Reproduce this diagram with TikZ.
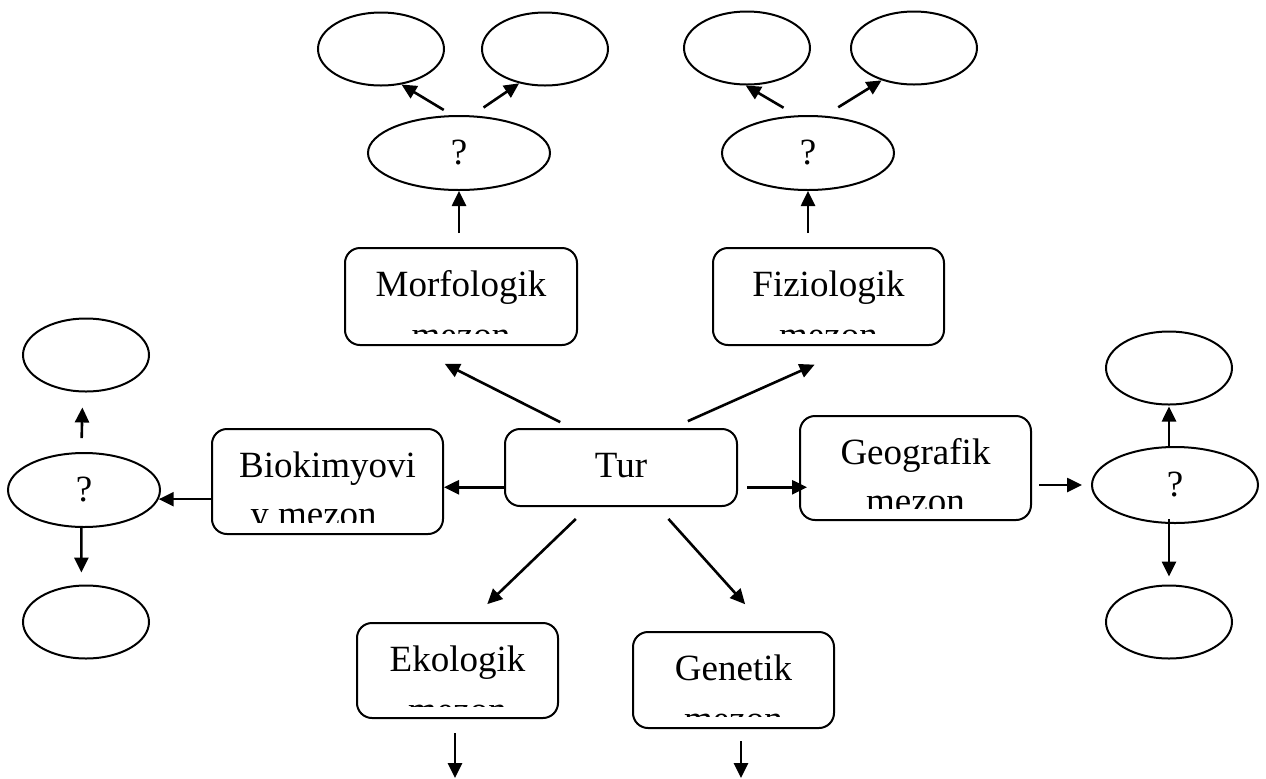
\documentclass[tikz,border=0pt]{standalone}
\usepackage{fontspec}
\setmainfont{Liberation Serif}
\usetikzlibrary{shapes.geometric, arrows.meta, calc}

\tikzset{
  mezon/.style={draw, rounded corners=7.5pt, line width=1pt, inner sep=0pt},
  blank/.style={draw, ellipse, line width=1pt, inner sep=0pt, minimum width=63pt, minimum height=36.5pt},
  query/.style={draw, ellipse, line width=1pt, inner sep=0pt, minimum height=37pt, font=\fontsize{18.5}{22}\selectfont},
  lbl/.style={inner sep=0pt, anchor=base, font=\fontsize{18.5}{22}\selectfont},
  arr/.style={-{Triangle[length=7.5pt, width=7pt]}, line width=1.3pt},
}

\begin{document}
\begin{tikzpicture}[x=0.5pt, y=-0.5pt]
    \useasboundingbox (0,0) rectangle (1266,778);

    % boxes
    \node[mezon, minimum width=116pt, minimum height=38.5pt] (tur) at (621,467.5) {};
    \node[mezon, minimum width=116pt, minimum height=48.5pt] (morf) at (461,296.5) {};
    \node[mezon, minimum width=115.5pt, minimum height=48.5pt] (fizi) at (828.5,296.5) {};
    \node[mezon, minimum width=115.5pt, minimum height=52.5pt] (biok) at (327.5,481.5) {};
    \node[mezon, minimum width=115.5pt, minimum height=52pt] (geog) at (915.5,468) {};
    \node[mezon, minimum width=100.5pt, minimum height=47.5pt] (ekol) at (457.5,670.5) {};
    \node[mezon, minimum width=100.5pt, minimum height=48pt] (gene) at (733.5,680) {};

    \node[lbl] at ([yshift=-24.5pt]tur.north) {Tur};
    \begin{scope}
        \clip (morf.north west) rectangle ([yshift=6.5pt]morf.south east);
        \node[lbl] at ([yshift=-24.5pt]morf.north) {Morfologik};
        \node[lbl] at ([yshift=-50pt]morf.north) {mezon};
    \end{scope}
    \begin{scope}
        \clip (fizi.north west) rectangle ([yshift=6.5pt]fizi.south east);
        \node[lbl] at ([yshift=-24.5pt]fizi.north) {Fiziologik};
        \node[lbl] at ([yshift=-50pt]fizi.north) {mezon};
    \end{scope}
    \begin{scope}
        \clip (biok.north west) rectangle ([yshift=6.5pt]biok.south east);
        \node[lbl] at ([yshift=-24.5pt]biok.north) {Biokimyovi};
        \node[lbl] at ([xshift=-7pt, yshift=-49pt]biok.north) {y mezon};
    \end{scope}
    \begin{scope}
        \clip (geog.north west) rectangle ([yshift=6.5pt]geog.south east);
        \node[lbl] at ([yshift=-24.5pt]geog.north) {Geografik};
        \node[lbl] at ([yshift=-49pt]geog.north) {mezon};
    \end{scope}
    \begin{scope}
        \clip (ekol.north west) rectangle ([yshift=6.5pt]ekol.south east);
        \node[lbl] at ([yshift=-24.5pt]ekol.north) {Ekologik};
        \node[lbl] at ([yshift=-50pt]ekol.north) {mezon};
    \end{scope}
    \begin{scope}
        \clip (gene.north west) rectangle ([yshift=6.5pt]gene.south east);
        \node[lbl] at ([yshift=-24.5pt]gene.north) {Genetik};
        \node[lbl] at ([yshift=-50pt]gene.north) {mezon};
    \end{scope}

    % ellipses
    \node[blank] (m1) at (381,49) {};
    \node[blank] (m2) at (545,49) {};
    \node[query, minimum width=91pt] (mq) at (459,153) {?};
    \node[blank] (f1) at (747,48) {};
    \node[blank] (f2) at (914,48) {};
    \node[query, minimum width=86pt] (fq) at (808,153) {?};
    \node[blank] (b1) at (86,355) {};
    \node[query, minimum width=76pt] (bq) at (84,490) {?};
    \node[blank] (b2) at (86,622) {};
    \node[blank] (g1) at (1169,368) {};
    \node[query, minimum width=83pt, minimum height=38pt] (gq) at (1175,485) {?};
    \node[blank] (g2) at (1169,622) {};

    % arrows from Tur
    \draw[arr, shorten <=6.5pt, shorten >=19.7pt] ($(tur.north west)!0.29!(tur.north east)$) -- ($(morf.south west)!0.28!(morf.south east)$);
    \draw[arr, shorten <=8.4pt, shorten >=22.9pt] ($(tur.north west)!0.72!(tur.north east)$) -- ($(fizi.south west)!0.62!(fizi.south east)$);
    \draw[arr, shorten <=8.6pt, shorten >=12.9pt] ($(tur.south west)!0.36!(tur.south east)$) -- ($(ekol.north west)!0.555!(ekol.north east)$);
    \draw[arr, shorten <=8pt, shorten >=18pt] ($(tur.south west)!0.657!(tur.south east)$) -- ($(gene.north west)!0.676!(gene.north east)$);
    \coordinate (turL) at ($(tur.north west)!0.75!(tur.south west)$);
    \coordinate (turR) at ($(tur.north east)!0.75!(tur.south east)$);
    \draw[arr] (turL) -- (turL -| biok.east);
    \draw[arr, shorten <=4.5pt, shorten >=-4pt] (turR) -- (turR -| geog.west);

    % arrows to ellipses
    \draw[arr, shorten <=7pt] (mq.south |- morf.north) -- (mq.south);
    \draw[arr, shorten <=5pt] (mq.100) -- (m1.-60);
    \draw[arr, shorten <=7pt] (mq.71) -- (m2.-127);
    \draw[arr, shorten <=7pt] (fq.south |- fizi.north) -- (fq.south);
    \draw[arr, shorten <=7.5pt] (fq.107) -- (f1.-92);
    \draw[arr, shorten <=8pt] (fq.66) -- (f2.-135);
    \draw[arr] (biok.west |- bq.-7) -- (bq.-7);
    \draw[arr, shorten <=7pt, shorten >=7.5pt] (bq.94) -- (b1.-95);
    \draw[arr, shorten >=6pt] (bq.-94) -- (b2.97);
    \draw[arr, shorten <=3.5pt, shorten >=4.5pt] (gq.west -| geog.east) -- (gq.west);
    \draw[arr, shorten >=0.5pt] (g1.south |- gq.north) -- (g1.south);
    \draw[arr, shorten <=-2.5pt, shorten >=4pt] (g2.north |- gq.south) -- (g2.north);

    % open ends
    \coordinate (ekolOut) at (455,778);
    \coordinate (geneOut) at (741,778);
    \draw[arr, shorten <=7pt] (ekolOut |- ekol.south) -- (ekolOut);
    \draw[arr, shorten <=6pt] (geneOut |- gene.south) -- (geneOut);
\end{tikzpicture}
\end{document}
